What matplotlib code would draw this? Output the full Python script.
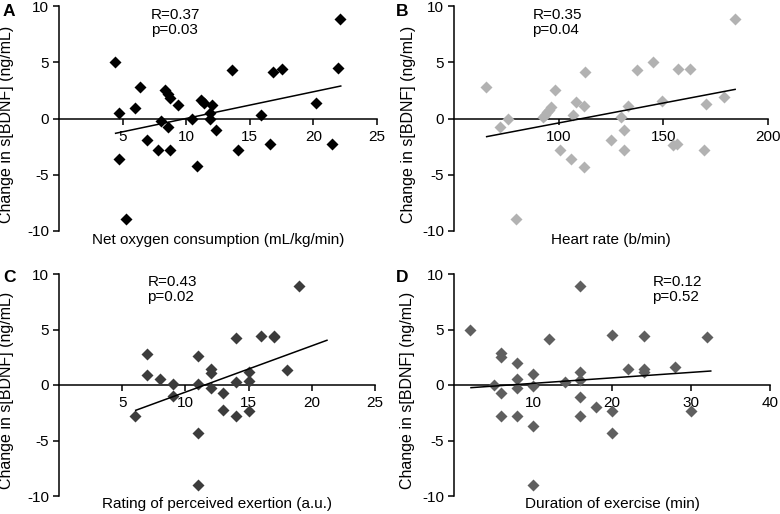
import numpy as np
import matplotlib
matplotlib.use('Agg')
import matplotlib.pyplot as plt

plt.rcParams['font.family'] = ['Liberation Sans', 'DejaVu Sans']
plt.rcParams['axes.unicode_minus'] = False

# A - net oxygen consumption vs change in BDNF
vo2 = [4.4, 4.75, 4.7, 5.3, 5.95, 6.4, 6.9, 7.8, 8.0, 8.3, 8.55, 8.7, 8.6, 8.75,
       9.38, 10.45, 10.85, 11.2, 11.4, 12.0, 11.9, 11.85, 12.35, 13.6, 14.05,
       15.9, 16.6, 16.8, 17.5, 20.2, 21.5, 21.9, 22.1]
bdnf_a = [5.0, 0.5, -3.65, -8.95, 0.9, 2.84, -1.93, -2.78, -0.2, 2.55, 2.2, 1.85, -0.75, -2.78,
          1.2, -0.05, -4.28, 1.65, 1.4, 1.2, 0.45, 0.0, -1.03, 4.33, -2.8,
          0.3, -2.24, 4.15, 4.4, 1.34, -2.28, 4.48, 8.87]
fit_a_x = [4.45, 22.15]
fit_a_y = [-1.32, 2.9]

# B - heart rate
hr = [65.5, 72, 76, 79.5, 92.7, 93.5, 94.5, 95.5, 96.5, 98.3, 100.8, 106, 107,
      108.5, 112, 112.5, 112, 124.8, 130, 131.3, 131.3, 133.2, 137.5, 145.2, 149.2,
      154.5, 156.4, 157.2, 162.5, 169.2, 170.4, 179.2, 184.3]
bdnf_b = [2.8, -0.73, 0.0, -8.95, 0.1, 0.35, 0.55, 0.8, 1.0, 2.55, -2.8, -3.65, 0.3,
          1.45, 1.15, 4.15, -4.3, -1.93, 0.15, -1.0, -2.8, 1.1, 4.3, 5.0, 1.6,
          -2.35, -2.3, 4.42, 4.42, -2.8, 1.3, 1.9, 8.87]
fit_b_x = [65.6, 184.3]
fit_b_y = [-1.62, 2.6]

# C - rating of perceived exertion
rpe = [6, 7, 7, 8, 9, 9, 11, 11, 11, 11, 12, 12, 12, 13, 13, 14, 14, 14,
       15, 15, 15, 16, 17, 17, 18, 19]
bdnf_c = [-2.8, 2.83, 0.92, 0.55, 0.1, -0.95, 2.6, 0.05, -4.3, -9.0, 1.4, 1.1, -0.3, -0.75, -2.25,
          4.2, 0.3, -2.8, 1.2, 0.35, -2.35, 4.45, 4.45, 4.3, 1.35, 8.9]
fit_c_x = [6.07, 21.2]
fit_c_y = [-2.28, 4.03]

# D - duration of exercise
duration = [2, 5, 6, 6, 6, 6, 8, 8, 8, 8, 10, 10, 10, 10, 12, 14, 16, 16, 16, 16, 16,
            18, 20, 20, 20, 22, 24, 24, 24, 28, 30, 32]
bdnf_d = [5.0, 0.0, 2.85, 2.55, -0.75, -2.8, 1.95, 0.5, -0.3, -2.8, 1.0, -0.05, -3.7, -9.0,
          4.15, 0.25, 8.9, 1.15, 0.45, -1.05, -2.8, -2.0, 4.5, -2.3, -4.3, 1.4, 4.42, 1.4,
          1.15, 1.65, -2.3, 4.35]
fit_d_x = [2.15, 32.5]
fit_d_y = [-0.24, 1.26]

W, H = 780, 514
fig = plt.figure(figsize=(W / 100, H / 100), dpi=100)


def add_ax(x0, x1, y_top, y_bot):
    return fig.add_axes([x0 / W, 1 - y_bot / H, (x1 - x0) / W, (y_bot - y_top) / H])


def panel(ax, x, y, color, xlim, xticks, fit_x, fit_y, xlabel, stats, stats_x, xlab_y, ylab_x):
    ax.plot(x, y, ls='none', marker='D', ms=6.3, mfc=color, mec='none', clip_on=False, zorder=3)
    ax.plot(fit_x, fit_y, color='black', lw=1.1, zorder=4, clip_on=False)
    ax.set_xlim(xlim)
    ax.set_ylim(-10, 10)
    ax.set_xticks(xticks)
    ax.set_yticks([-10, -5, 0, 5, 10])
    ax.spines['top'].set_visible(False)
    ax.spines['right'].set_visible(False)
    ax.spines['bottom'].set_position(('data', 0))
    for s in ('left', 'bottom'):
        ax.spines[s].set_linewidth(1.1)
    ax.tick_params(axis='both', direction='out', length=4, width=1.1, labelsize=11, color='black')
    ax.tick_params(axis='y', pad=3)
    ax.tick_params(axis='x', pad=4)
    ax.patch.set_visible(False)
    ax.text(stats_x, 0.995, stats, transform=ax.transAxes, fontsize=11,
            ha='left', va='top', linespacing=1.1)
    ax.text(0.5, xlab_y, xlabel, transform=ax.transAxes, fontsize=11, ha='center', va='center')
    ax.text(ylab_x, 0.475, 'Change in s[BDNF] (ng/mL)', transform=ax.transAxes, fontsize=11.5,
            rotation=90, ha='center', va='center')


ax_a = add_ax(59, 377, 6.5, 230.5)
ax_b = add_ax(454, 768, 6.5, 230.5)
ax_c = add_ax(59, 375, 274, 496)
ax_d = add_ax(454, 770, 274, 496)

panel(ax_a, vo2, bdnf_a, '#000000', (0, 25), [5, 10, 15, 20, 25], fit_a_x, fit_a_y,
      'Net oxygen consumption (mL/kg/min)', 'R=0.37\np=0.03', 0.29, -0.042, -0.164)
panel(ax_b, hr, bdnf_b, '#b2b2b2', (50, 200), [100, 150, 200], fit_b_x, fit_b_y,
      'Heart rate (b/min)', 'R=0.35\np=0.04', 0.25, -0.042, -0.146)
panel(ax_c, rpe, bdnf_c, '#3c3c3c', (0, 25), [5, 10, 15, 20, 25], fit_c_x, fit_c_y,
      'Rating of perceived exertion (a.u.)', 'R=0.43\np=0.02', 0.28, -0.036, -0.165)
panel(ax_d, duration, bdnf_d, '#5f5f5f', (0, 40), [10, 20, 30, 40], fit_d_x, fit_d_y,
      'Duration of exercise (min)', 'R=0.12\np=0.52', 0.628, -0.036, -0.146)

for letter, px, py in [('A', 3, 4), ('B', 396, 4), ('C', 3, 270), ('D', 396, 270)]:
    fig.text(px / W, 1 - py / H, letter, fontsize=12.5, fontweight='bold', ha='left', va='top')

fig.savefig('out.png', dpi=100)
